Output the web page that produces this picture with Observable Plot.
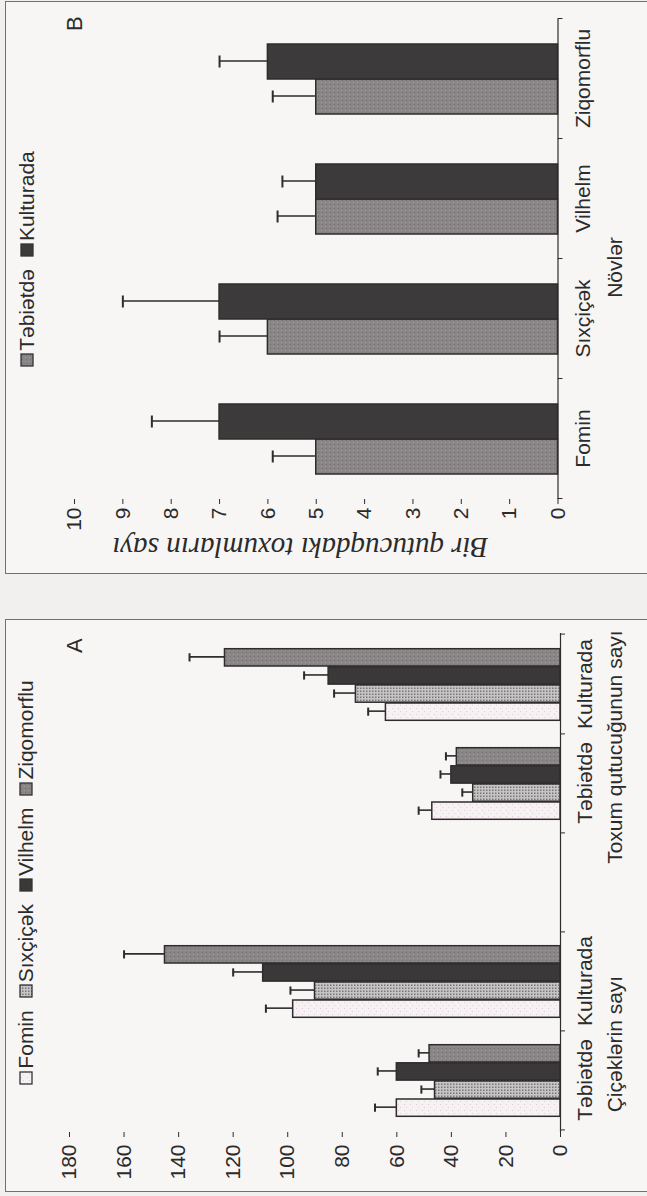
<!DOCTYPE html>
<html>
<head>
<meta charset="utf-8">
<script src="https://cdn.jsdelivr.net/npm/d3@7"></script>
<script src="https://cdn.jsdelivr.net/npm/@observablehq/plot@0.6"></script>
<style>
  html, body { margin: 0; padding: 0; width: 647px; height: 1196px; overflow: hidden; background: #f1f0ee; }
  /* the printed page is laid out landscape and turned a quarter turn */
  #page {
    position: absolute; left: 0; top: 1196px; width: 1196px; height: 647px;
    transform-origin: 0 0; transform: rotate(-90deg);
    font-family: "Liberation Sans", Arial, sans-serif; color: #2b2b2b;
  }
  .panel { position: absolute; border: 1.3px solid #707070; background: #f7f6f5; }
  .chart { position: absolute; top: 0; }
  .legend { position: absolute; display: flex; justify-content: center; align-items: center; gap: 12px; font-size: 21px; line-height: 24px; }
  .legend span.item { display: inline-flex; align-items: center; }
  .letter { position: absolute; font-size: 22px; line-height: 24px; }
</style>
</head>
<body>
<svg width="0" height="0" style="position:absolute">
  <defs>
    <pattern id="fill-grid" width="3" height="3" patternUnits="userSpaceOnUse">
      <rect width="3" height="3" fill="#c6c4c5"/>
      <rect width="1.5" height="1.5" fill="#7b7879"/>
    </pattern>
    <pattern id="fill-light" width="6" height="6" patternUnits="userSpaceOnUse">
      <rect width="6" height="6" fill="#f6f2f4"/>
      <rect x="1" y="2" width="1" height="1" fill="#e2c8d6"/>
      <rect x="4" y="4" width="1" height="1" fill="#d9d0e2"/>
    </pattern>
    <pattern id="fill-mid" width="4" height="4" patternUnits="userSpaceOnUse">
      <rect width="4" height="4" fill="#8a8586"/>
      <rect x="1" y="1" width="1" height="1" fill="#a0999c"/>
      <rect x="3" y="2" width="1" height="1" fill="#767172"/>
    </pattern>
  </defs>
</svg>

<div id="page">
  <div class="panel" style="left:4px; top:5px; width:571px; height:700px;"></div>
  <div class="panel" style="left:622px; top:5px; width:571px; height:700px;"></div>
  <div id="chartA" class="chart" style="left:0px;"></div>
  <div id="chartB" class="chart" style="left:600px;"></div>
  <div id="legendA" class="legend" style="left:64px; width:499px; top:14px;"></div>
  <div id="legendB" class="legend" style="left:697px; width:480px; top:15px;"></div>
  <div class="letter" style="left:543px; top:63px;">A</div>
  <div class="letter" style="left:1165px; top:63px;">B</div>
</div>

<script>
// Cultivars, growing conditions and measured traits
const cultivars = ["Fomin", "Sıxçiçək", "Vilhelm", "Ziqomorflu"];
const conditions = ["Təbiətdə", "Kulturada"];
const traits = ["Çiçəklərin sayı", "Toxum qutucuğunun sayı"];

// Panel A: number of flowers and of seed capsules (mean and error)
const flowersWild = [60, 46, 60, 48];
const flowersWildErr = [8, 5, 7, 4];
const flowersCult = [98, 90, 109, 145];
const flowersCultErr = [10, 9, 11, 15];
const capsulesWild = [47, 32, 40, 38];
const capsulesWildErr = [5, 4, 4, 4];
const capsulesCult = [64, 75, 85, 123];
const capsulesCultErr = [6.5, 8, 9, 13];
const ticksA = [0, 20, 40, 60, 80, 100, 120, 140, 160, 180];

// Panel B: seeds per capsule (mean and error)
const seedsWild = [5, 6, 5, 5];
const seedsWildErr = [0.9, 1.0, 0.8, 0.9];
const seedsCult = [7, 7, 5, 6];
const seedsCultErr = [1.4, 2.0, 0.7, 1.0];
const ticksB = [0, 1, 2, 3, 4, 5, 6, 7, 8, 9, 10];
const axisTitleB = "Bir qutucuqdakı toxumların sayı";
const categoryTitleB = "Növlər";

const fillsA = ["url(#fill-light)", "url(#fill-grid)", "#3b3839", "url(#fill-mid)"];
const fillsB = ["url(#fill-mid)", "#3d3a3b"];
const ink = "#2e2c2c";
const fontSans = "'Liberation Sans', Arial, sans-serif";

// ---------- Panel A ----------
const keyA = (t, c) => t + "|" + c;
const spacer = "—";
const domainA = [keyA(traits[0], conditions[0]), keyA(traits[0], conditions[1]), spacer,
                 keyA(traits[1], conditions[0]), keyA(traits[1], conditions[1])];
const seriesA = [
  [traits[0], conditions[0], flowersWild, flowersWildErr],
  [traits[0], conditions[1], flowersCult, flowersCultErr],
  [traits[1], conditions[0], capsulesWild, capsulesWildErr],
  [traits[1], conditions[1], capsulesCult, capsulesCultErr]
];
const rowsA = seriesA.flatMap(([t, c, vals, errs]) =>
  cultivars.map((cv, i) => ({key: keyA(t, c), cultivar: cv, value: vals[i], err: errs[i]})));

const wA = 590, hA = 647, mlA = 64, mrA = 27, mtA = 69, mbA = 87;
const bwA = (wA - mlA - mrA) / domainA.length;
const offA = 13.7, barA = 18.1, capA = 9;
const unitA = (hA - mtA - mbA) / 180;

const marksA = [
  Plot.axisY({ticks: ticksA, tickSize: 5, tickPadding: 8, line: true, label: null, stroke: ink}),
  Plot.axisX({tickSize: 0, tickPadding: 17, label: null,
    tickFormat: k => k === spacer ? "" : k.split("|")[1]}),
  Plot.ruleY([0], {stroke: ink, strokeWidth: 1.2}),
  Plot.ruleX(domainA, {x: d => d, y1: 0, y2: -5 / unitA, dx: -bwA / 2, stroke: ink}),
  Plot.ruleX([domainA[domainA.length - 1]], {x: d => d, y1: 0, y2: -5 / unitA, dx: bwA / 2, stroke: ink}),
  Plot.text(traits, {x: t => keyA(t, conditions[0]), frameAnchor: "bottom", dx: bwA / 2 - 14, dy: 55,
    fontSize: 21, fill: "#2b2b2b", lineAnchor: "middle", textAnchor: "middle"})
];
cultivars.forEach((cv, s) => {
  const data = rowsA.filter(r => r.cultivar === cv);
  const left = offA + s * barA, right = bwA - offA - (s + 1) * barA;
  const center = offA + (s + 0.5) * barA;
  marksA.push(
    Plot.ruleX(data, {x: "key", y1: "value", y2: d => d.value + d.err, dx: center - bwA / 2, stroke: ink, strokeWidth: 1.6}),
    Plot.tickY(data, {x: "key", y: d => d.value + d.err, insetLeft: center - capA / 2, insetRight: bwA - center - capA / 2, stroke: ink, strokeWidth: 2}),
    Plot.barY(data, {x: "key", y: "value", insetLeft: left, insetRight: right, fill: fillsA[s], stroke: ink, strokeWidth: 1.5})
  );
});

const chartA = Plot.plot({
  width: wA, height: hA,
  marginLeft: mlA, marginRight: mrA, marginTop: mtA, marginBottom: mbA,
  style: {fontSize: "21px", fontFamily: fontSans, color: "#2b2b2b", background: "transparent", overflow: "visible"},
  x: {domain: domainA, padding: 0, axis: null},
  y: {domain: [0, 180], axis: null},
  marks: marksA
});
document.getElementById("chartA").append(chartA);

// ---------- Panel B ----------
const rowsB = [[conditions[0], seedsWild, seedsWildErr], [conditions[1], seedsCult, seedsCultErr]]
  .flatMap(([c, vals, errs]) => cultivars.map((cv, i) => ({cultivar: cv, condition: c, value: vals[i], err: errs[i]})));

const wB = 596, hB = 647, mlB = 97, mrB = 19, mtB = 74, mbB = 89.5;
const bwB = (wB - mlB - mrB) / cultivars.length;
const offB = 25, barB = 35, capB = 12;
const unitB = (hB - mtB - mbB) / 10;

const marksB = [
  Plot.axisY({ticks: ticksB, tickSize: 5, tickPadding: 4, line: true, label: null, stroke: ink}),
  Plot.axisX({tickSize: 0, tickPadding: 17, label: null}),
  Plot.ruleY([0], {stroke: ink, strokeWidth: 1.2}),
  Plot.ruleX(cultivars, {x: d => d, y1: 0, y2: -5 / unitB, dx: -bwB / 2, stroke: ink}),
  Plot.ruleX([cultivars[cultivars.length - 1]], {x: d => d, y1: 0, y2: -5 / unitB, dx: bwB / 2, stroke: ink}),
  Plot.text([categoryTitleB], {frameAnchor: "bottom", dx: -9, dy: 57, fontSize: 21, fill: "#2b2b2b",
    lineAnchor: "middle", textAnchor: "middle"}),
  Plot.text([axisTitleB], {frameAnchor: "left", rotate: -90, dx: -49, dy: -16, fontSize: 29,
    textAnchor: "middle", lineAnchor: "middle",
    fontStyle: "italic", fontFamily: "'Liberation Serif', 'Times New Roman', serif", fill: "#2b2b2b"})
];
conditions.forEach((c, s) => {
  const data = rowsB.filter(r => r.condition === c);
  const left = offB + s * barB, right = bwB - offB - (s + 1) * barB;
  const center = offB + (s + 0.5) * barB;
  marksB.push(
    Plot.ruleX(data, {x: "cultivar", y1: "value", y2: d => d.value + d.err, dx: center - bwB / 2, stroke: ink, strokeWidth: 1.6}),
    Plot.tickY(data, {x: "cultivar", y: d => d.value + d.err, insetLeft: center - capB / 2, insetRight: bwB - center - capB / 2, stroke: ink, strokeWidth: 2}),
    Plot.barY(data, {x: "cultivar", y: "value", insetLeft: left, insetRight: right, fill: fillsB[s], stroke: ink, strokeWidth: 1.5})
  );
});

const chartB = Plot.plot({
  width: wB, height: hB,
  marginLeft: mlB, marginRight: mrB, marginTop: mtB, marginBottom: mbB,
  style: {fontSize: "21px", fontFamily: fontSans, color: "#2b2b2b", background: "transparent", overflow: "visible"},
  x: {domain: cultivars, padding: 0, axis: null},
  y: {domain: [0, 10], axis: null},
  marks: marksB
});
document.getElementById("chartB").append(chartB);

// ---------- Legends ----------
function legend(el, names, fills) {
  names.forEach((n, i) => {
    const item = document.createElement("span");
    item.className = "item";
    const sw = document.createElementNS("http://www.w3.org/2000/svg", "svg");
    sw.setAttribute("width", 14); sw.setAttribute("height", 14);
    sw.style.marginRight = "2px";
    const r = document.createElementNS("http://www.w3.org/2000/svg", "rect");
    r.setAttribute("x", 1); r.setAttribute("y", 1); r.setAttribute("width", 12); r.setAttribute("height", 12);
    r.setAttribute("fill", fills[i]); r.setAttribute("stroke", "#333"); r.setAttribute("stroke-width", 1.3);
    sw.append(r);
    item.append(sw, document.createTextNode(n));
    el.append(item);
  });
}
legend(document.getElementById("legendA"), cultivars, fillsA);
legend(document.getElementById("legendB"), conditions, fillsB);
</script>
</body>
</html>
